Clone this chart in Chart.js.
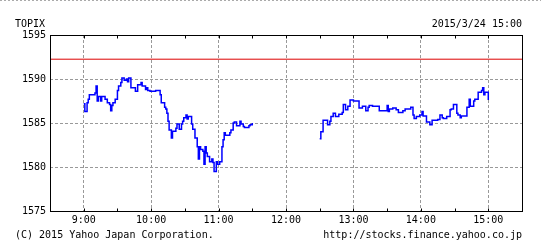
<!DOCTYPE html>
<html>
<head>
<meta charset="utf-8">
<script src="https://cdn.jsdelivr.net/npm/chart.js@4.4.1/dist/chart.umd.min.js"></script>
<style>
  body { margin: 0; background: #fff; }
  #wrap { position: relative; width: 541px; height: 247px; }
  .txt { position: absolute; font: 10px "DejaVu Sans Mono", monospace; line-height: 10px; color: #000; white-space: pre; }
</style>
</head>
<body>
<div id="wrap">
  <canvas id="myChart" width="541" height="247"></canvas>
  <div class="txt" style="left:15px;top:19px">TOPIX</div>
  <div class="txt" style="right:19px;top:19px">2015/3/24 15:00</div>
  <div class="txt" style="left:15px;top:230px">(C) 2015 Yahoo Japan Corporation.</div>
  <div class="txt" style="right:19px;top:230px">http://stocks.finance.yahoo.co.jp</div>
</div>
<script>
(function () {
'use strict';

// morning session
var amTimes = ['9:00','9:01','9:03','9:04','9:05','9:10','9:11','9:12','9:13','9:15',
  '9:16','9:19','9:21','9:23','9:24','9:25','9:26','9:28','9:30','9:31',
  '9:33','9:34','9:36','9:38','9:39','9:40','9:42','9:46','9:48','9:51',
  '9:52','9:55','9:56','9:57','9:59','10:04','10:08','10:09','10:12','10:13',
  '10:14','10:15','10:16','10:18','10:19','10:22','10:23','10:25','10:27','10:28',
  '10:29','10:31','10:32','10:33','10:36','10:37','10:39','10:41','10:42','10:43',
  '10:44','10:46','10:47','10:48','10:49','10:50','10:52','10:54','10:55','10:56',
  '10:58','10:59','11:01','11:03','11:04','11:05','11:06','11:10','11:11','11:13',
  '11:14','11:16','11:19','11:20','11:22','11:23','11:27','11:28','11:30'];
var amValues = [1587.2,1586.3,1587.3,1587.7,1588.2,1588.4,1589.2,1587.5,1588.0,1587.5,
  1588.0,1587.7,1587.3,1587.1,1586.4,1587.0,1587.3,1587.7,1588.7,1589.2,
  1589.6,1590.1,1589.85,1590.0,1589.7,1590.1,1589.0,1588.6,1589.35,1589.6,
  1589.2,1588.8,1589.0,1588.7,1588.6,1588.7,1588.2,1587.3,1586.8,1586.6,
  1586.1,1585.2,1584.2,1583.3,1584.05,1584.4,1584.9,1584.3,1584.9,1585.2,
  1585.6,1585.9,1585.45,1585.75,1584.9,1584.3,1583.3,1582.3,1580.9,1582.3,
  1582.0,1581.8,1580.3,1582.3,1581.6,1581.2,1580.6,1580.9,1580.5,1579.5,
  1580.6,1580.3,1580.6,1582.3,1583.1,1583.9,1583.6,1583.9,1584.2,1585.0,
  1585.1,1584.7,1585.2,1584.9,1584.6,1584.5,1584.7,1584.8,1585.0];

// afternoon session
var pmTimes = ['12:30','12:31','12:33','12:37','12:39','12:40','12:42','12:44','12:47','12:50',
  '12:51','12:53','12:55','12:57','13:00','13:05','13:08','13:11','13:13','13:14',
  '13:17','13:23','13:30','13:31','13:32','13:35','13:38','13:40','13:44','13:46',
  '13:51','13:53','13:54','13:56','13:59','14:01','14:02','14:05','14:08','14:10',
  '14:15','14:17','14:19','14:20','14:23','14:26','14:27','14:29','14:32','14:33',
  '14:35','14:36','14:41','14:43','14:44','14:47','14:48','14:51','14:54','14:55',
  '14:56','14:57','15:00'];
var pmValues = [1583.2,1584.0,1585.3,1584.8,1585.2,1585.75,1586.1,1585.75,1586.0,1586.2,
  1587.1,1586.5,1586.9,1587.6,1587.5,1586.7,1586.9,1586.4,1586.8,1587.0,
  1586.9,1586.4,1587.0,1586.3,1586.6,1586.7,1586.5,1586.2,1586.4,1586.6,
  1586.8,1585.9,1585.5,1585.75,1585.9,1586.3,1585.8,1585.1,1584.8,1585.3,
  1585.4,1585.9,1585.6,1585.5,1585.75,1586.5,1586.6,1587.1,1586.1,1585.9,
  1585.6,1585.8,1586.8,1587.7,1586.9,1587.5,1587.7,1588.5,1588.7,1589.0,
  1588.2,1588.5,1587.6];

var prevClose = 1592.25;
var yTicks = [1575, 1580, 1585, 1590, 1595];
var xTickLabels = ['9:00','10:00','11:00','12:00','13:00','14:00','15:00'];
var xStart = '8:30', xEnd = '15:30';

// minutes from 9:00
function toMin(t) {
  var p = t.split(':');
  return (Number(p[0]) - 9) * 60 + Number(p[1]);
}

var points = [];
for (var i = 0; i < amTimes.length; i++) points.push({x: toMin(amTimes[i]), y: amValues[i]});
points.push({x: toMin('12:00'), y: null}); // lunch break
for (var j = 0; j < pmTimes.length; j++) points.push({x: toMin(pmTimes[j]), y: pmValues[j]});

var xMin = toMin(xStart), xMax = toMin(xEnd);
var font = {family: 'DejaVu Sans Mono', size: 10};

// frame, half hour tick marks and the dashed page rule
var framePlugin = {
  id: 'frame',
  beforeDraw: function (chart) {
    var c = chart.ctx;
    c.save();
    c.strokeStyle = '#aaa';
    c.lineWidth = 1;
    c.setLineDash([2, 2]);
    c.beginPath();
    c.moveTo(0, 0.5);
    c.lineTo(chart.width, 0.5);
    c.stroke();
    c.restore();
  },
  afterDraw: function (chart) {
    var c = chart.ctx, a = chart.chartArea, xs = chart.scales.x;
    var l = Math.round(a.left) + 0.5, r = Math.round(a.right) + 0.5;
    var t = Math.round(a.top) + 0.5, b = Math.round(a.bottom) + 0.5;
    c.save();
    c.strokeStyle = '#000';
    c.lineWidth = 1;
    c.strokeRect(l, t, r - l, b - t);
    c.beginPath();
    for (var m = xMin + 30; m < xMax; m += 30) {
      var px = Math.round(xs.getPixelForValue(m)) + 0.5;
      c.moveTo(px, t); c.lineTo(px, t + 3);
      c.moveTo(px, b); c.lineTo(px, b - 3);
    }
    c.stroke();
    c.restore();
  }
};

var ctx = document.getElementById('myChart').getContext('2d');
var chart = new Chart(ctx, {
  type: 'line',
  data: {
    datasets: [{
      label: 'TOPIX',
      data: points,
      borderColor: '#0000ff',
      borderWidth: 1.5,
      pointRadius: 0,
      stepped: true,
      spanGaps: false
    },
    {
      label: 'prev',
      data: [{x: xMin, y: prevClose}, {x: xMax, y: prevClose}],
      borderColor: '#dd0000',
      borderWidth: 1,
      pointRadius: 0
    }]
  },
  plugins: [framePlugin],
  options: {
    responsive: false,
    animation: false,
    layout: {padding: {top: 35, right: 19, bottom: 0, left: 0}},
    plugins: {legend: {display: false}, tooltip: {enabled: false}},
    scales: {
      x: {
        type: 'linear',
        min: xMin,
        max: xMax,
        afterFit: function (s) { s.height = 36; },
        afterBuildTicks: function (s) {
          s.ticks = [];
          for (var m = xMin; m <= xMax; m += 30) s.ticks.push({value: m});
        },
        ticks: {
          font: font,
          color: '#000',
          padding: 3,
          maxRotation: 0,
          autoSkip: false,
          callback: function (v) { return v % 60 === 0 ? xTickLabels[v / 60] : ''; }
        },
        grid: {
          drawTicks: false,
          color: function (c) {
            var v = c.tick && c.tick.value;
            return (v % 60 === 0 && v > xMin && v < xMax) ? '#999' : 'rgba(0,0,0,0)';
          }
        },
        border: {display: false, dash: [3, 2]}
      },
      y: {
        min: yTicks[0],
        max: yTicks[yTicks.length - 1],
        afterFit: function (s) { s.width = 50; },
        afterBuildTicks: function (s) {
          s.ticks = yTicks.map(function (v) { return {value: v}; });
        },
        ticks: {
          font: font,
          color: '#000',
          padding: 4,
          callback: function (v) { return String(v); }
        },
        grid: {
          drawTicks: false,
          color: function (c) {
            var v = c.tick && c.tick.value;
            return (v > yTicks[0] && v < yTicks[yTicks.length - 1]) ? '#999' : 'rgba(0,0,0,0)';
          }
        },
        border: {display: false, dash: [3, 2]}
      }
    }
  }
});

})();
</script>
</body>
</html>
